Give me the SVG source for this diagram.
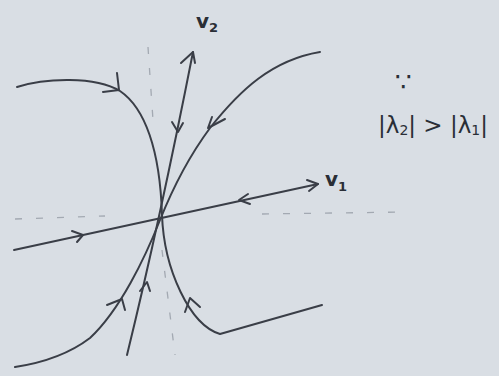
<svg xmlns="http://www.w3.org/2000/svg" width="499" height="376" viewBox="0 0 499 376">
<style>
.c{fill:none;stroke:#3a3e47;stroke-width:2;stroke-linecap:round;stroke-linejoin:round}
.a{fill:none;stroke:#3a3e47;stroke-width:2;stroke-linecap:round;stroke-linejoin:round}
.d{fill:none;stroke:#a3a9b2;stroke-width:1.3;stroke-dasharray:7 14}
.t{font-family:"DejaVu Sans","Liberation Sans",sans-serif;fill:#2a2e36}
</style>
<rect width="499" height="376" fill="#d9dee4"/>
<g id="axes-dashed">
<path class="d" d="M148,47 L153,120"/>
<path class="d" d="M162,250 L175,355"/>
<path class="d" d="M15,219 L105,216"/>
<path class="d" d="M262,214 L405,212"/>
</g>
<g id="connectors">
<path id="v1-line" class="c" d="M14,250 L318,184"/>
<path id="v2-line" class="c" d="M127,355 Q160,220 193,52"/>
<path id="traj-left" class="c" d="M17,87 C45,78 95,76 120,91 C145,108 160,150 162,215 C164,270 190,325 220,334 L322,305"/>
<path id="traj-right" class="c" d="M320,52 C272,60 240,90 210,128 C190,155 172,190 160,220 C145,258 120,310 90,338 C65,357 35,364 15,367"/>
</g>
<g id="arrows">
<path class="a" d="M307,180 L318,184 L309,191"/>
<path class="a" d="M181,63 L193,52 L195,63"/>
<path class="a" d="M72,231 L83,235 L77,242"/>
<path class="a" d="M248,194 L239,200 L250,204"/>
<path class="a" d="M172,122 L178,132 L183,123"/>
<path class="a" d="M140,291 L147,282 L150,291"/>
<path class="a" d="M117,73 L119,90 L103,92"/>
<path class="a" d="M212,117 L208,128 L225,119"/>
<path class="a" d="M185,312 L190,298 L200,307"/>
<path class="a" d="M107,305 L122,299 L125,310"/>
</g>
<g id="label-v1"><text class="t" x="325" y="186" font-size="20" font-weight="bold">v<tspan font-size="13" dy="5">1</tspan></text></g>
<g id="label-v2"><text class="t" x="196" y="28" font-size="20" font-weight="bold">v<tspan font-size="13" dy="4">2</tspan></text></g>
<g id="note">
<text class="t" x="395" y="91" font-size="26">∵</text>
<text class="t" x="378" y="133" font-size="23">|λ<tspan font-size="14" dy="2">2</tspan><tspan dy="-2">| &gt; |λ</tspan><tspan font-size="14" dy="2">1</tspan><tspan dy="-2">|</tspan></text>
</g>
</svg>
